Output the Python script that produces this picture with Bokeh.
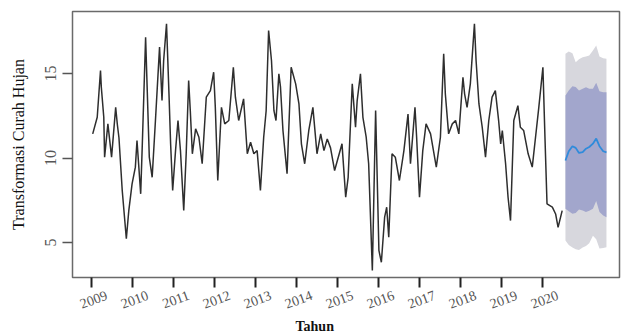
from bokeh.plotting import figure
from bokeh.models import Range1d, FixedTicker, LinearAxis, Title
from bokeh.embed import file_html
from bokeh.resources import INLINE

# observed series (decimal year, transformed rainfall)
obs_year = [2009.03, 2009.14, 2009.22, 2009.24, 2009.30, 2009.32, 2009.40, 2009.49, 2009.59, 2009.63,
            2009.67, 2009.75, 2009.85, 2009.91, 2009.99, 2010.07, 2010.11, 2010.20, 2010.24, 2010.32,
            2010.36, 2010.41, 2010.48, 2010.56, 2010.66, 2010.72, 2010.76, 2010.83, 2010.89, 2010.93,
            2010.98, 2011.05, 2011.11, 2011.17, 2011.25, 2011.31, 2011.37, 2011.41, 2011.46, 2011.54,
            2011.62, 2011.70, 2011.80, 2011.90, 2011.98, 2012.02, 2012.08, 2012.17, 2012.25, 2012.35,
            2012.46, 2012.51, 2012.59, 2012.71, 2012.80, 2012.88, 2012.96, 2013.04, 2013.12, 2013.20,
            2013.26, 2013.32, 2013.39, 2013.45, 2013.50, 2013.57, 2013.61, 2013.67, 2013.77, 2013.87,
            2013.98, 2014.06, 2014.12, 2014.20, 2014.30, 2014.40, 2014.50, 2014.59, 2014.67, 2014.75,
            2014.83, 2014.93, 2015.11, 2015.20, 2015.26, 2015.36, 2015.44, 2015.48, 2015.56, 2015.62,
            2015.70, 2015.76, 2015.85, 2015.93, 2016.01, 2016.07, 2016.15, 2016.20, 2016.25, 2016.33,
            2016.41, 2016.51, 2016.62, 2016.72, 2016.78, 2016.89, 2016.93, 2017.00, 2017.08, 2017.16,
            2017.27, 2017.41, 2017.51, 2017.59, 2017.63, 2017.71, 2017.80, 2017.88, 2017.96, 2018.06,
            2018.10, 2018.16, 2018.24, 2018.34, 2018.38, 2018.45, 2018.53, 2018.61, 2018.69, 2018.77,
            2018.85, 2018.93, 2018.98, 2019.02, 2019.10, 2019.16, 2019.22, 2019.30, 2019.40, 2019.46,
            2019.54, 2019.65, 2019.75, 2019.83, 2019.91, 2020.01, 2020.06, 2020.11, 2020.24, 2020.32,
            2020.38, 2020.48]
obs_value = [11.43, 12.41, 15.18, 14.19, 12.41, 10.05, 12.02, 10.05, 13.0, 12.0,
             11.2, 8.08, 5.22, 6.89, 8.47, 9.46, 11.04, 7.88, 10.84, 17.15,
             13.99, 10.05, 8.86, 12.22, 16.56, 13.4, 15.77, 17.94, 13.8, 10.84,
             8.08, 10.44, 12.22, 10.44, 6.89, 10.25, 14.59, 12.8, 10.25, 11.73,
             11.23, 9.66, 13.6, 13.99, 15.08, 13.0, 8.67, 13.0, 12.02, 12.22,
             15.37, 13.6, 12.22, 13.5, 10.25, 10.93, 10.25, 10.44, 8.08, 11.23,
             12.8, 17.54, 15.77, 12.8, 12.22, 14.98, 14.19, 11.63, 9.07, 15.37,
             14.39, 13.2, 10.84, 9.66, 11.63, 13.0, 10.25, 11.43, 10.44, 11.13,
             10.6, 9.26, 10.84, 7.68, 8.86, 14.39, 11.82, 13.4, 14.98, 12.41,
             11.23, 9.66, 3.34, 12.81, 4.53, 3.83, 6.5, 7.09, 5.31, 10.25,
             10.05, 8.67, 10.44, 12.6, 9.66, 13.0, 11.23, 7.68, 10.44, 12.02,
             11.43, 9.46, 11.23, 16.17, 13.8, 11.43, 12.02, 12.22, 11.43, 14.78,
             13.8, 13.0, 14.39, 17.94, 15.77, 13.2, 11.82, 10.05, 12.22, 13.6,
             13.99, 12.22, 10.84, 11.63, 9.66, 7.68, 6.3, 12.22, 13.1, 11.82,
             11.63, 10.25, 9.46, 11.23, 13.0, 15.37, 11.23, 7.29, 7.09, 6.69,
             5.9, 6.89]

# forecast
fc_year = [2020.56, 2020.64, 2020.73, 2020.81, 2020.89, 2020.98, 2021.06,
           2021.14, 2021.23, 2021.31, 2021.39, 2021.48, 2021.56]
fc_mean = [9.85, 10.4, 10.7, 10.6, 10.3, 10.35, 10.55, 10.65, 10.85, 11.15, 10.7, 10.4, 10.34]
hi80 = [13.7, 14.0, 14.25, 14.2, 14.0, 14.1, 14.19, 14.1, 14.1, 14.45, 13.95, 13.89, 13.89]
lo80 = [7.0, 6.85, 6.7, 6.75, 6.95, 6.9, 6.8, 6.88, 7.0, 7.45, 6.8, 6.6, 6.5]
hi95 = [16.17, 16.3, 16.2, 15.67, 15.85, 15.96, 16.0, 16.07, 16.36, 16.66, 16.0, 15.9, 15.87]
lo95 = [5.12, 4.85, 4.7, 4.6, 4.55, 4.7, 4.8, 4.95, 5.4, 5.2, 4.65, 4.68, 4.72]

x_ticks = [2009, 2010, 2011, 2012, 2013, 2014, 2015, 2016, 2017, 2018, 2019, 2020]
x_tick_labels = [str(t) for t in x_ticks]
y_ticks = [5, 10, 15]
x_title = "Tahun"
y_title = "Transformasi Curah Hujan"

SERIF = "Liberation Serif"
LABEL_SHIFT = 0.37  # tilted labels sit centred under their tick, as in the original

p = figure(width=621, height=333, output_backend="svg", toolbar_location=None,
           x_range=Range1d(2008.537, 2021.878), y_range=Range1d(2.93, 18.67),
           min_border_left=72, min_border_right=2, min_border_top=11, min_border_bottom=56)

p.varea(x=fc_year, y1=lo95, y2=hi95, color="#D7D7DD")
p.varea(x=fc_year, y1=lo80, y2=hi80, color="#A2A6CC")
p.line(obs_year, obs_value, color="#2e2e2e", line_width=1.5)
p.line(fc_year, fc_mean, color="#2F8BDB", line_width=1.8)

p.xgrid.visible = False
p.ygrid.visible = False
p.outline_line_color = "#6a6a6a"
p.outline_line_width = 1.5
p.background_fill_color = "white"
p.border_fill_color = "white"

# x axis: tick marks only
xa = p.xaxis[0]
xa.ticker = FixedTicker(ticks=x_ticks)
xa.axis_line_color = None
xa.minor_tick_line_color = None
xa.major_tick_in = 0
xa.major_tick_out = 10
xa.major_tick_line_width = 2
xa.major_tick_line_color = "#222222"
xa.major_label_overrides = {t: "" for t in x_ticks}
xa.major_label_text_font_size = "0px"
xa.major_label_standoff = 0

# second x axis: tilted year labels
label_pos = [t + LABEL_SHIFT for t in x_ticks]
xl = LinearAxis(ticker=FixedTicker(ticks=label_pos),
                major_label_overrides={pos: lab for pos, lab in zip(label_pos, x_tick_labels)},
                axis_line_color=None, major_tick_line_color=None, minor_tick_line_color=None,
                major_tick_in=0, major_tick_out=0, major_label_standoff=7,
                major_label_orientation=0.35, major_label_text_font=SERIF,
                major_label_text_font_size="14px", major_label_text_color="#555555")
p.add_layout(xl, "below")
p.add_layout(Title(text=x_title, align="left", offset=223, text_font=SERIF,
                   text_font_size="14px", text_font_style="bold", text_color="#111111",
                   standoff=0), "below")

ya = p.yaxis[0]
ya.ticker = FixedTicker(ticks=y_ticks)
ya.axis_line_color = None
ya.minor_tick_line_color = None
ya.major_tick_in = 0
ya.major_tick_out = 10
ya.major_tick_line_width = 1.5
ya.major_tick_line_color = "#555555"
ya.major_label_orientation = "vertical"
ya.major_label_text_font = SERIF
ya.major_label_text_font_size = "16px"
ya.major_label_text_color = "#555555"
ya.major_label_standoff = 6
ya.axis_label = y_title
ya.axis_label_text_font = SERIF
ya.axis_label_text_font_style = "normal"
ya.axis_label_text_font_size = "16px"
ya.axis_label_text_color = "#111111"
ya.axis_label_standoff = 16

open("out.html", "w").write(file_html(p, INLINE))
